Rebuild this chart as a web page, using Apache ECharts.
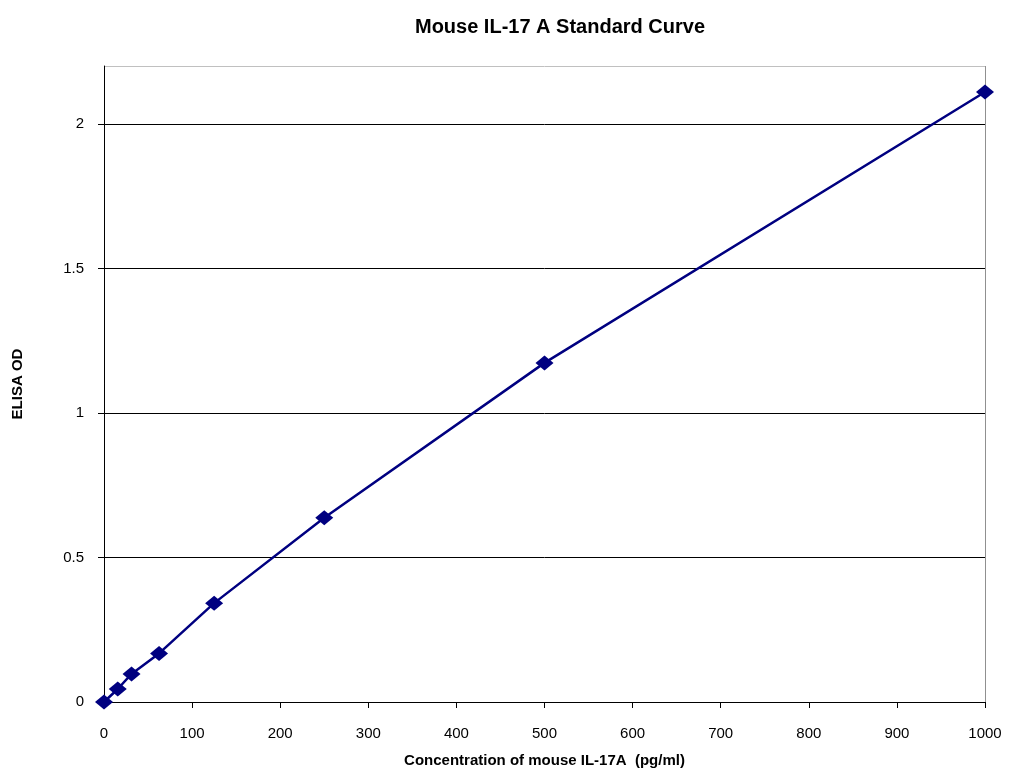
<!DOCTYPE html>
<html>
<head>
<meta charset="utf-8">
<script src="https://cdn.jsdelivr.net/npm/echarts@6/dist/echarts.min.js"></script>
<style>
  html, body { margin: 0; padding: 0; background: #fff; }
  #main { width: 1013px; height: 771px; }
</style>
</head>
<body>
<div id="main"></div>
<script>
// standard concentrations (pg/ml) and measured OD
const concentrations = [0, 15.6, 31.25, 62.5, 125, 250, 500, 1000];
const odValues = [0, 0.045, 0.097, 0.168, 0.342, 0.637, 1.173, 2.11];

const FONT = '"Liberation Sans", Arial, sans-serif';

const chart = echarts.init(document.getElementById('main'), null, { renderer: 'canvas' });

const points = concentrations.map((c, i) => [c, odValues[i]]);

const option = {
  backgroundColor: '#ffffff',
  animation: false,
  title: {
    text: 'Mouse IL-17 A Standard Curve',
    left: 555,
    textAlign: 'center',
    top: 12,
    textStyle: { fontFamily: FONT, fontSize: 20, fontWeight: 'bold', color: '#000' }
  },
  grid: { left: 104, right: 28, top: 66, bottom: 69, outerBoundsMode: 'none', containLabel: false },
  xAxis: {
    type: 'value',
    min: 0,
    max: 1000,
    interval: 100,
    name: 'Concentration of mouse IL-17A  (pg/ml)',
    nameLocation: 'middle',
    nameGap: 51,
    nameTextStyle: { fontFamily: FONT, fontSize: 15, fontWeight: 'bold', color: '#000' },
    axisLine: { lineStyle: { color: '#000', width: 1 } },
    axisTick: { inside: false, length: 6, lineStyle: { color: '#000' } },
    axisLabel: { fontFamily: FONT, fontSize: 15, color: '#000', margin: 24, formatter: v => String(v) },
    splitLine: {
      show: true,
      lineStyle: {
        color: ['rgba(0,0,0,0)', 'rgba(0,0,0,0)', 'rgba(0,0,0,0)', 'rgba(0,0,0,0)',
                'rgba(0,0,0,0)', 'rgba(0,0,0,0)', 'rgba(0,0,0,0)', 'rgba(0,0,0,0)',
                'rgba(0,0,0,0)', 'rgba(0,0,0,0)', '#909090'],
        width: 1
      }
    }
  },
  yAxis: {
    type: 'value',
    min: 0,
    max: 2.2,
    interval: 0.5,
    name: 'ELISA OD',
    nameLocation: 'middle',
    nameGap: 79,
    nameTextStyle: { fontFamily: FONT, fontSize: 15, fontWeight: 'bold', color: '#000' },
    axisLine: { show: true, lineStyle: { color: '#000', width: 1 } },
    axisTick: { show: true, inside: false, length: 6, lineStyle: { color: '#000' } },
    axisLabel: {
      fontFamily: FONT, fontSize: 15, color: '#000', margin: 20,
      showMaxLabel: false,
      formatter: v => (v > 2.1 ? '' : String(v))
    },
    splitLine: {
      show: true,
      lineStyle: {
        color: ['#000', '#000', '#000', '#000', '#000', '#c0c0c0'],
        width: 1
      }
    }
  },
  series: [{
    type: 'line',
    data: points,
    symbol: 'diamond',
    symbolSize: [18, 15],
    showAllSymbol: true,
    lineStyle: { color: '#000080', width: 2.5 },
    itemStyle: { color: '#000080' },
    z: 5
  }]
};

chart.setOption(option);
</script>
</body>
</html>
